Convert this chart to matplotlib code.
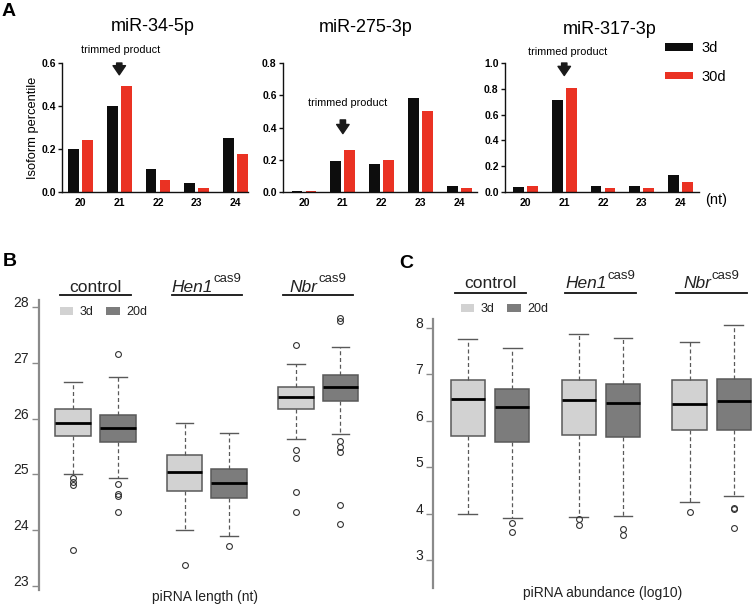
import matplotlib
matplotlib.use('Agg')
import numpy as np
import matplotlib.pyplot as plt
import matplotlib.transforms as mtransforms
from matplotlib.patches import Patch
from matplotlib.lines import Line2D

plt.rcParams['font.family'] = ['Liberation Sans', 'DejaVu Sans']

W, H = 756, 606

# ---------------- Panel A data ----------------
lengths_nt = ['20', '21', '22', '23', '24']
mirna_names = ['miR-34-5p', 'miR-275-3p', 'miR-317-3p']
mir34_3d = [0.20, 0.40, 0.105, 0.04, 0.25]
mir34_30d = [0.24, 0.495, 0.058, 0.018, 0.178]
mir275_3d = [0.005, 0.195, 0.175, 0.58, 0.038]
mir275_30d = [0.007, 0.258, 0.198, 0.505, 0.026]
mir317_3d = [0.04, 0.715, 0.045, 0.05, 0.135]
mir317_30d = [0.05, 0.805, 0.03, 0.032, 0.075]
a_ymax = [0.6, 0.8, 1.0]
a_series_labels = ['3d', '30d']

# ---------------- Panel B/C data ----------------
groups = ['control', 'Hen1', 'Nbr']
group_sup = ['', 'cas9', 'cas9']
box_labels = ['3d', '20d']
# order: control 3d, control 20d, Hen1 3d, Hen1 20d, Nbr 3d, Nbr 20d
len_whislo = [25.00, 24.93, 24.00, 23.90, 25.63, 25.72]
len_q1 = [25.69, 25.59, 24.71, 24.57, 26.17, 26.31]
len_med = [25.93, 25.83, 25.04, 24.84, 26.38, 26.56]
len_q3 = [26.17, 26.07, 25.34, 25.09, 26.56, 26.78]
len_whishi = [26.66, 26.75, 25.92, 25.75, 26.98, 27.28]
len_fliers = [[24.93, 24.87, 24.81, 23.64],
              [27.16, 24.82, 24.65, 24.61, 24.32],
              [23.37],
              [23.71],
              [27.32, 25.44, 25.29, 24.68, 24.32],
              [27.81, 27.75, 25.60, 25.50, 25.40, 24.46, 24.12]]

abd_whislo = [3.99, 3.91, 3.93, 3.94, 4.26, 4.39]
abd_q1 = [5.68, 5.55, 5.70, 5.64, 5.81, 5.81]
abd_med = [6.46, 6.30, 6.44, 6.38, 6.36, 6.42]
abd_q3 = [6.88, 6.68, 6.88, 6.80, 6.87, 6.89]
abd_whishi = [7.77, 7.56, 7.86, 7.78, 7.70, 8.07]
abd_fliers = [[], [3.79, 3.61], [3.88, 3.75], [3.68, 3.55], [4.04], [4.13, 4.10, 3.70]]

len_yticks = [23, 24, 25, 26, 27, 28]
abd_yticks = [3, 4, 5, 6, 7, 8]

BLACK = '#0d0d0d'
RED = '#ea3223'
LIGHT = '#d2d2d2'
DARK = '#7c7c7c'
EDGE = '#595959'
AXGREY = '#8a8a8a'
TXT = '#222222'

fig = plt.figure(figsize=(W / 100, H / 100), dpi=100)


def add_ax(left, top, right, bottom):
    return fig.add_axes([left / W, 1 - bottom / H, (right - left) / W, (bottom - top) / H])


def ftext(x, y, s, **kw):
    return fig.text(x / W, 1 - y / H, s, **kw)


# ---------------- Panel A ----------------
a_boxes = [(62, 63, 248, 192), (283, 63, 477, 192), (505, 63, 699, 192)]
a_xlims = [(-0.477, 4.32), (-0.54, 4.45), (-0.53, 4.48)]
a_data = [(mir34_3d, mir34_30d), (mir275_3d, mir275_30d), (mir317_3d, mir317_30d)]
a_title_pos = [(153, 31), (366, 32), (610, 34)]
a_tp_pos = [(121, 50), (348, 103), (568, 52)]
a_arrow = [(0.600, 0.545), (0.447, 0.362), (1.000, 0.903)]

x = np.arange(len(lengths_nt))
bar_handles = None
for i in range(3):
    ax = add_ax(*a_boxes[i])
    d3, d30 = a_data[i]
    b1 = ax.bar(x - 0.18, d3, width=0.28, color=BLACK)
    b2 = ax.bar(x + 0.18, d30, width=0.28, color=RED)
    bar_handles = (b1, b2)
    ax.set_xlim(*a_xlims[i])
    ax.set_ylim(0, a_ymax[i])
    yt = np.round(np.arange(0, a_ymax[i] + 1e-9, 0.2), 1)
    ax.set_yticks(yt)
    ax.set_yticklabels([f'{v:.1f}' for v in yt])
    ax.set_xticks(x)
    ax.set_xticklabels(lengths_nt)
    for s in ['top', 'right']:
        ax.spines[s].set_visible(False)
    for s in ['left', 'bottom']:
        ax.spines[s].set_linewidth(1.0)
        ax.spines[s].set_color('#111111')
    ax.tick_params(axis='y', length=3, width=1, pad=1.5, labelsize=7.5, color='#111111')
    ax.tick_params(axis='x', length=0, pad=4, labelsize=7.5)
    for lbl in ax.get_xticklabels() + ax.get_yticklabels():
        lbl.set_fontweight('bold')
    ftext(a_title_pos[i][0], a_title_pos[i][1], mirna_names[i], ha='center', va='baseline', fontsize=13)
    ftext(a_tp_pos[i][0], a_tp_pos[i][1], 'trimmed product', ha='center', va='center', fontsize=7.8)
    ax.annotate('', xy=(1, a_arrow[i][1]), xytext=(1, a_arrow[i][0]),
                arrowprops=dict(arrowstyle='simple,head_length=0.55,head_width=0.75,tail_width=0.32',
                                color='#1a1a1a', shrinkA=0, shrinkB=0, mutation_scale=12),
                annotation_clip=False)
    if i == 0:
        ax.set_ylabel('Isoform percentile', fontsize=9.3, labelpad=1.5)

ftext(716, 200, '(nt)', ha='center', va='center', fontsize=10.5)
fig.legend(bar_handles, a_series_labels, loc='upper left', bbox_to_anchor=(665 / W, 1 - 41 / H),
           frameon=False, fontsize=10.5, handlelength=1.92, handleheight=0.42,
           handletextpad=0.55, labelspacing=1.0, borderpad=0, borderaxespad=0)

ftext(9, 12, 'A', ha='center', va='center', fontsize=14, fontweight='bold')
ftext(10, 262, 'B', ha='center', va='center', fontsize=14, fontweight='bold')
ftext(406, 263, 'C', ha='center', va='center', fontsize=14, fontweight='bold')


# ---------------- Panels B and C ----------------
def box_panel(box, ylim, xlim, yticks, whislo, q1, med, q3, whishi, fliers,
              width, capw, xlabel, xlabel_y, label_base, uline_y, uline_half, legend_xy):
    ax = add_ax(*box)
    stats = []
    for k in range(len(med)):
        stats.append(dict(whislo=whislo[k], q1=q1[k], med=med[k], q3=q3[k],
                          whishi=whishi[k], fliers=fliers[k]))
    pos = []
    for g in range(len(groups)):
        pos += [g - 0.2, g + 0.2]
    art = ax.bxp(stats, positions=pos, widths=width, capwidths=capw, patch_artist=True,
                 showfliers=True,
                 boxprops=dict(edgecolor=EDGE, linewidth=1.1),
                 whiskerprops=dict(color=EDGE, linestyle=(0, (3.2, 2.2)), linewidth=0.9),
                 capprops=dict(color=EDGE, linewidth=1.0),
                 medianprops=dict(color='black', linewidth=2.0),
                 flierprops=dict(marker='o', markersize=4.2, markerfacecolor='none',
                                 markeredgecolor='#333333', markeredgewidth=0.8))
    for k, patch in enumerate(art['boxes']):
        patch.set_facecolor(LIGHT if k % 2 == 0 else DARK)
    ax.set_xlim(*xlim)
    ax.set_ylim(*ylim)
    ax.set_xticks([])
    ax.set_yticks(yticks)
    ax.set_yticklabels([str(v) for v in yticks])
    for s in ['top', 'right', 'bottom']:
        ax.spines[s].set_visible(False)
    ax.spines['left'].set_color(AXGREY)
    ax.spines['left'].set_linewidth(1.6)
    ax.tick_params(axis='y', length=5, width=1, color=AXGREY, labelsize=10, labelcolor=TXT, pad=2)
    for lbl in ax.get_yticklabels():
        lbl.set_va('baseline')
    ax.patch.set_visible(False)

    tr = mtransforms.blended_transform_factory(ax.transData, fig.transFigure)
    for g, name in enumerate(groups):
        if group_sup[g]:
            main_tr = mtransforms.offset_copy(tr, fig=fig, x=-10.5, y=0, units='points')
            main = ax.text(g, 1 - label_base / H, name, transform=main_tr, ha='center',
                           va='baseline', fontsize=12.5, fontstyle='italic', color=TXT, clip_on=False)
            ax.annotate(group_sup[g], xy=(1, 0.83), xycoords=main, xytext=(0.6, 0),
                        textcoords='offset points', ha='left', va='baseline',
                        fontsize=9.5, color=TXT, annotation_clip=False)
        else:
            ax.text(g, 1 - label_base / H, name, transform=tr, ha='center', va='baseline',
                    fontsize=12.5, color=TXT, clip_on=False)
        ax.add_line(Line2D([g - uline_half, g + uline_half], [1 - uline_y / H] * 2,
                           transform=tr, color='#111111', linewidth=1.3, clip_on=False))
    fig.text(xlabel[1] / W, 1 - xlabel_y / H, xlabel[0],
             ha='center', va='center', fontsize=10, color=TXT)
    ax.legend([Patch(facecolor=LIGHT, edgecolor='none'), Patch(facecolor=DARK, edgecolor='none')],
              box_labels, ncol=2, loc='center left',
              bbox_to_anchor=(legend_xy[0] / W, 1 - legend_xy[1] / H), bbox_transform=fig.transFigure,
              frameon=False, fontsize=9, handlelength=1.05, handleheight=0.62,
              handletextpad=0.55, columnspacing=1.0, borderpad=0, borderaxespad=0,
              labelcolor=TXT)
    return ax


box_panel((39, 300, 365, 590), (22.93, 28.125), (-0.507, 2.42), len_yticks,
          len_whislo, len_q1, len_med, len_q3, len_whishi, len_fliers,
          0.32, 0.16, ('piRNA length (nt)', 205), 597, 291.5, 295, 0.315, (60, 312))

box_panel((433, 319, 756, 588), (2.40, 8.19), (-0.515, 2.40), abd_yticks,
          abd_whislo, abd_q1, abd_med, abd_q3, abd_whishi, abd_fliers,
          0.31, 0.17, ('piRNA abundance (log10)', 603), 593, 288, 293, 0.32, (461, 309))

fig.savefig('out.png', dpi=100)
